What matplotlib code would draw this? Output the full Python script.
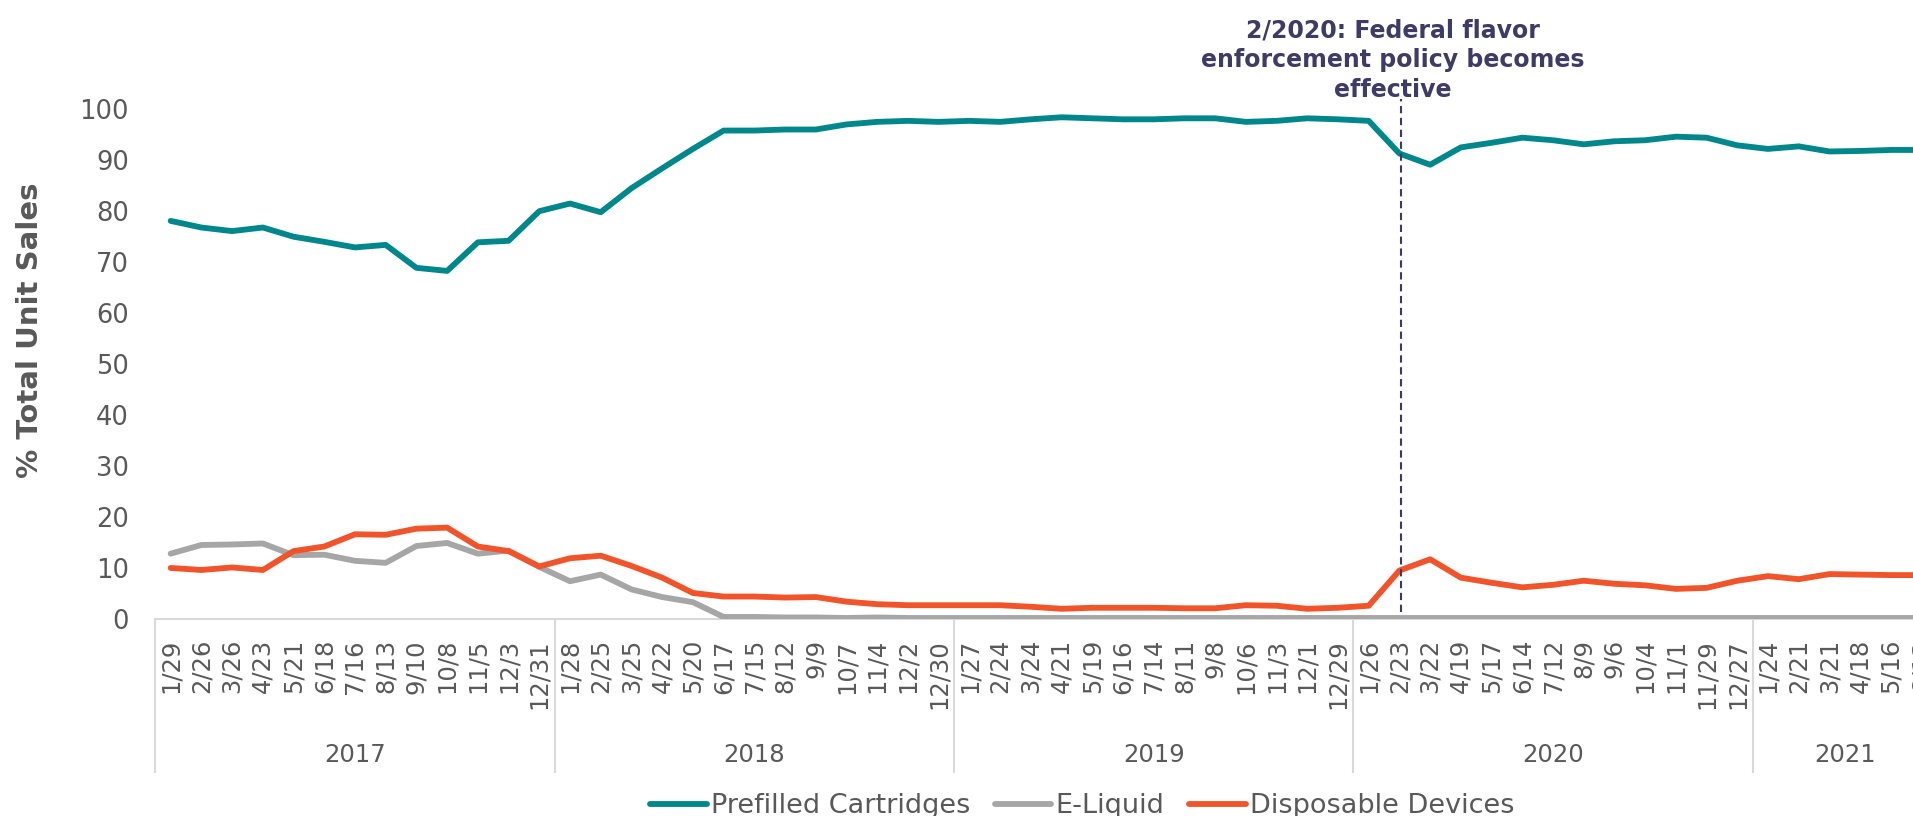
import matplotlib
matplotlib.use("Agg")
import matplotlib.pyplot as plt
from matplotlib.transforms import blended_transform_factory

plt.rcParams['font.family'] = ['DejaVu Sans']

# ---------------- data ----------------
date_labels = [
    "1/29", "2/26", "3/26", "4/23", "5/21", "6/18", "7/16", "8/13", "9/10", "10/8", "11/5", "12/3", "12/31",
    "1/28", "2/25", "3/25", "4/22", "5/20", "6/17", "7/15", "8/12", "9/9", "10/7", "11/4", "12/2", "12/30",
    "1/27", "2/24", "3/24", "4/21", "5/19", "6/16", "7/14", "8/11", "9/8", "10/6", "11/3", "12/1", "12/29",
    "1/26", "2/23", "3/22", "4/19", "5/17", "6/14", "7/12", "8/9", "9/6", "10/4", "11/1", "11/29", "12/27",
    "1/24", "2/21", "3/21", "4/18", "5/16", "6/13",
]
years = ["2017", "2018", "2019", "2020", "2021"]
year_counts = [13, 13, 13, 13, 6]

prefilled = [
    78.0, 76.7, 76.0, 76.7, 74.9, 73.9, 72.8, 73.3, 68.8, 68.2, 73.8, 74.1, 79.9,
    81.4, 79.7, 84.4, 88.3, 92.1, 95.7, 95.7, 95.9, 95.9, 96.9, 97.4, 97.6, 97.4,
    97.6, 97.4, 97.9, 98.3, 98.1, 97.9, 97.9, 98.1, 98.1, 97.4, 97.6, 98.1, 97.9,
    97.6, 91.2, 89.0, 92.4, 93.3, 94.3, 93.8, 93.0, 93.6, 93.8, 94.5, 94.3, 92.8,
    92.1, 92.6, 91.6, 91.7, 91.9, 91.9,
]
e_liquid = [
    12.8, 14.5, 14.6, 14.8, 12.5, 12.6, 11.4, 11.0, 14.3, 14.9, 12.8, 13.4, 10.2,
    7.4, 8.7, 5.8, 4.3, 3.3, 0.4, 0.4, 0.3, 0.3, 0.2, 0.3, 0.2, 0.2,
    0.2, 0.2, 0.2, 0.2, 0.2, 0.2, 0.2, 0.2, 0.2, 0.2, 0.2, 0.2, 0.2,
    0.2, 0.2, 0.2, 0.2, 0.2, 0.2, 0.2, 0.2, 0.2, 0.2, 0.2, 0.2, 0.2,
    0.2, 0.2, 0.2, 0.2, 0.2, 0.2,
]
disposable = [
    10.0, 9.6, 10.1, 9.6, 13.3, 14.2, 16.6, 16.5, 17.7, 17.9, 14.2, 13.3, 10.3,
    11.9, 12.4, 10.4, 8.1, 5.1, 4.4, 4.4, 4.2, 4.3, 3.4, 2.9, 2.7, 2.7,
    2.7, 2.7, 2.4, 2.0, 2.2, 2.2, 2.2, 2.1, 2.1, 2.7, 2.6, 2.0, 2.2,
    2.6, 9.5, 11.7, 8.1, 7.1, 6.2, 6.7, 7.5, 6.9, 6.6, 5.9, 6.1, 7.5,
    8.4, 7.8, 8.8, 8.7, 8.6, 8.6,
]
event_index = 40.05
event_text = "2/2020: Federal flavor\nenforcement policy becomes\neffective"
series_names = ["Prefilled Cartridges", "E-Liquid", "Disposable Devices"]
colors = ["#00878C", "#A6A6A6", "#F1542A"]

# ---------------- figure ----------------
W, H = 1913, 816
fig = plt.figure(figsize=(W / 100, H / 100), dpi=100)
left_px, right_px = 155.3, 1937.0
bottom_px, top_px = 619.0, 108.6
ax = fig.add_axes([left_px / W, (H - bottom_px) / H,
                   (right_px - left_px) / W, (bottom_px - top_px) / H])

x = list(range(len(date_labels)))
lines = []
for vals, c, name in zip([prefilled, e_liquid, disposable], colors, series_names):
    ln, = ax.plot(x, vals, color=c, lw=4.2, label=name,
                  solid_joinstyle='round', solid_capstyle='round', zorder=3)
    lines.append(ln)

ax.set_xlim(-0.5, len(date_labels) - 0.5)
ax.set_ylim(0, 100)
ax.set_yticks(range(0, 101, 10))
ax.set_xticks(x)
ax.set_xticklabels(date_labels, rotation=90)
ax.tick_params(axis='y', length=0, pad=19, labelsize=18.5, labelcolor='#595959')
ax.tick_params(axis='x', length=0, pad=14.4, labelsize=17.5, labelcolor='#595959')

for s in ['top', 'right', 'left']:
    ax.spines[s].set_visible(False)
ax.spines['bottom'].set_color('#D9D9D9')
ax.spines['bottom'].set_linewidth(1.5)
ax.spines['bottom'].set_zorder(1)

# multi-level category axis: year separators and labels
trans = blended_transform_factory(ax.transData, ax.transAxes)
sep_bottom = -(772 - bottom_px) / (bottom_px - top_px)
year_y = -(755 - bottom_px) / (bottom_px - top_px)
start = 0
bounds = [-0.5]
for yr, n in zip(years, year_counts):
    end = start + n
    bounds.append(end - 0.5)
    ax.text((start - 0.5 + end - 0.5) / 2, year_y, yr, transform=trans,
            ha='center', va='center', fontsize=17.5, color='#595959')
    start = end
for b in bounds:
    ax.plot([b, b], [0, sep_bottom], transform=trans, color='#D9D9D9',
            lw=1.5, clip_on=False, zorder=1)

# event line and annotation
ax.plot([event_index, event_index], [1.3, 101.8], color='#3E3868', lw=1.5,
        linestyle=(0, (3.5, 2.2)), clip_on=False, zorder=4)
fig.text(1393 / W, (H - 60) / H, event_text, ha='center', va='center',
         fontsize=17, fontweight='bold', color='#403B66', linespacing=1.3)

# y label
fig.text(30 / W, (H - 330) / H, "% Total Unit Sales", rotation=90,
         ha='center', va='center', fontsize=21, fontweight='bold', color='#595959')

# legend
leg = fig.legend(handles=lines, loc='center', bbox_to_anchor=(1082 / W, (H - 806) / H),
                 ncol=3, frameon=False, fontsize=19.5, handlelength=2.1,
                 handletextpad=0.15, columnspacing=0.9, borderaxespad=0, borderpad=0)
for t in leg.get_texts():
    t.set_color('#595959')

fig.savefig("out.png", dpi=100)
